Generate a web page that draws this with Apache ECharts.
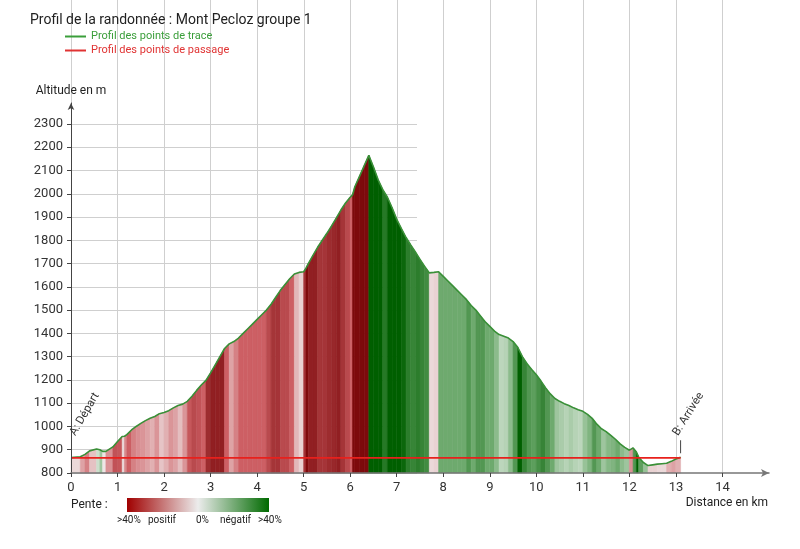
<!DOCTYPE html>
<html><head><meta charset="utf-8">
<script src="https://cdn.jsdelivr.net/npm/echarts@6/dist/echarts.min.js"></script>
<style>html,body{margin:0;padding:0;background:#fff}#c{width:800px;height:549px}</style>
</head><body><div id="c"></div>
<script>
// Profile of the track (distance in km, altitude in m)
const traceKm = [0,0.2,0.3,0.4,0.55,0.62,0.68,0.75,0.9,1.0,1.1,1.15,1.2,1.3,1.4,1.5,1.6,1.7,1.8,1.9,2.0,2.1,2.2,2.3,2.4,2.5,2.6,2.7,2.8,2.9,3.0,3.1,3.2,3.3,3.4,3.5,3.6,3.7,3.8,3.9,4.0,4.1,4.2,4.3,4.4,4.5,4.6,4.7,4.8,4.9,5.0,5.05,5.1,5.2,5.3,5.4,5.5,5.6,5.7,5.8,5.9,6.0,6.05,6.1,6.2,6.3,6.4,6.5,6.6,6.7,6.8,6.9,7.0,7.1,7.2,7.3,7.4,7.5,7.6,7.7,7.8,7.9,8.0,8.1,8.2,8.3,8.4,8.5,8.6,8.7,8.8,8.9,9.0,9.1,9.2,9.3,9.4,9.5,9.6,9.7,9.8,9.9,10.0,10.1,10.2,10.3,10.4,10.5,10.6,10.7,10.8,10.9,11.0,11.1,11.2,11.3,11.4,11.5,11.6,11.7,11.8,11.9,12.0,12.08,12.15,12.2,12.3,12.4,12.5,12.6,12.7,12.8,12.9,13.0,13.1];
const traceAlt = [866,870,880,895,903,900,893,893,912,935,957,958,965,985,1000,1013,1025,1035,1043,1055,1060,1068,1080,1090,1096,1108,1130,1155,1178,1198,1230,1265,1300,1335,1355,1365,1380,1400,1420,1440,1460,1480,1500,1525,1555,1585,1610,1635,1655,1662,1665,1680,1700,1735,1770,1800,1830,1862,1895,1930,1960,1985,1995,2030,2075,2120,2165,2115,2060,2018,1985,1940,1890,1850,1812,1780,1750,1718,1688,1660,1662,1665,1645,1625,1605,1585,1565,1545,1520,1500,1475,1450,1430,1410,1395,1388,1380,1365,1340,1300,1270,1245,1222,1195,1165,1140,1120,1108,1098,1090,1080,1072,1065,1052,1035,1010,990,978,962,945,925,910,898,908,890,868,845,832,835,838,840,842,850,860,868];
// Waypoints (points de passage)
const passageKm = [0, 13.1];
const passageAlt = [865, 865];
const passageNames = ['A: Départ', 'B: Arrivée'];
// Axis ticks
const yTickMin = 800, yTickMax = 2300, yStep = 100;
const xTickMin = 0, xTickMax = 14, xStep = 1;
const legendLabels = ['>40%', 'positif', '0%', 'négatif', '>40%'];

const FONT = 'Roboto';
function mix(a, b, t) { return a.map((v, i) => Math.round(v + (b[i] - v) * t)); }
function slopeColor(p) {
  const t = Math.min(Math.abs(p) / 40, 1);
  let c;
  if (p >= 0) {
    c = t < 0.5 ? mix([238,230,230],[205,95,100],t/0.5) : mix([205,95,100],[125,10,12],(t-0.5)/0.5);
  } else {
    c = t < 0.5 ? mix([230,238,230],[110,170,110],t/0.5) : mix([110,170,110],[0,95,0],(t-0.5)/0.5);
  }
  return 'rgb(' + c.join(',') + ')';
}
const segs = [];
for (let i = 0; i < traceKm.length - 1; i++) {
  const p = (traceAlt[i+1] - traceAlt[i]) / (traceKm[i+1] - traceKm[i]) / 10;
  segs.push([traceKm[i], traceAlt[i], traceKm[i+1], traceAlt[i+1], p]);
}

const chart = echarts.init(document.getElementById('c'));
const axisLbl = { fontFamily: FONT, fontSize: 13, color: '#333', formatter: v => String(v) };
const option = {
  animation: false,
  title: { text: 'Profil de la randonnée : Mont Pecloz groupe 1', left: 30, top: 13, padding: 0,
    textStyle: { fontFamily: FONT, fontSize: 14, fontWeight: 'normal', color: '#222' } },
  legend: { left: 65, top: 31, padding: 0, orient: 'vertical', icon: 'rect', itemWidth: 21, itemHeight: 2, itemGap: 3,
    textStyle: { fontFamily: FONT, fontSize: 11 },
    data: [ { name: 'Profil des points de trace', textStyle: { color: '#3a9e3a' } },
            { name: 'Profil des points de passage', textStyle: { color: '#e03333' } } ] },
  grid: [
    { left: 71, top: 103, width: 698, height: 370 },
    { left: 71, top: 0, width: 651.7, height: 473 },
    { left: 71, top: 124, width: 346, height: 349 }
  ],
  xAxis: [
    { gridIndex: 0, type: 'value', min: 0, max: 15, interval: xStep, z: 5,
      axisLine: { lineStyle: { color: '#777', width: 1.5 }, symbol: ['none', 'arrow'], symbolSize: [6, 8] },
      axisTick: { show: true, length: 4, lineStyle: { color: '#444' } },
      axisLabel: Object.assign({ margin: 8, showMaxLabel: false }, axisLbl),
      splitLine: { show: false } },
    { gridIndex: 1, type: 'value', min: xTickMin, max: xTickMax, interval: xStep,
      axisLine: { show: false }, axisTick: { show: false }, axisLabel: { show: false },
      splitLine: { show: true, lineStyle: { color: '#cfcfcf', width: 1 } } },
    { gridIndex: 2, type: 'value', min: 0, max: 7.43, show: false }
  ],
  yAxis: [
    { gridIndex: 0, type: 'value', min: yTickMin, max: 2390, interval: yStep, z: 5,
      name: 'Altitude en m', nameLocation: 'end', nameGap: 6,
      nameTextStyle: { fontFamily: FONT, fontSize: 12, color: '#222' },
      axisLine: { show: true, lineStyle: { color: '#444', width: 1 }, symbol: ['none', 'arrow'], symbolSize: [5, 7] },
      axisTick: { show: true, length: 4, lineStyle: { color: '#444' } },
      axisLabel: Object.assign({ margin: 8, showMaxLabel: false }, axisLbl),
      splitLine: { show: false } },
    { gridIndex: 1, type: 'value', min: 0, max: 1, show: false },
    { gridIndex: 2, type: 'value', min: yTickMin, max: yTickMax, interval: yStep,
      axisLine: { show: false }, axisTick: { show: false }, axisLabel: { show: false },
      splitLine: { show: true, lineStyle: { color: '#cfcfcf', width: 1 } } }
  ],
  series: [
    { type: 'custom', xAxisIndex: 0, yAxisIndex: 0, z: 2, silent: true,
      encode: { x: [0, 2], y: [1, 3] },
      data: segs,
      renderItem: function (params, api) {
        const x0 = api.value(0), a0 = api.value(1), x1 = api.value(2), a1 = api.value(3);
        const p0 = api.coord([x0, yTickMin]), p1 = api.coord([x0, a0]);
        const p2 = api.coord([x1, a1]), p3 = api.coord([x1, yTickMin]);
        const col = slopeColor(api.value(4));
        return { type: 'polygon', shape: { points: [p0, p1, p2, p3] },
          style: { fill: col, stroke: col, lineWidth: 0.6 } };
      } },
    { name: 'Profil des points de trace', type: 'line', xAxisIndex: 0, yAxisIndex: 0, z: 4,
      showSymbol: false, symbol: 'none', color: '#3a9e3a',
      lineStyle: { color: '#3a9038', width: 1.6 },
      data: traceKm.map((k, i) => [k, traceAlt[i]]) },
    { name: 'Profil des points de passage', type: 'line', xAxisIndex: 0, yAxisIndex: 0, z: 4,
      showSymbol: false, symbol: 'none', color: '#e03333',
      lineStyle: { color: '#e8201c', width: 1.6 },
      data: passageKm.map((k, i) => [k, passageAlt[i]]),
      markPoint: {
        symbol: 'circle', symbolSize: 0, silent: true,
        data: [
          { coord: [passageKm[0], passageAlt[0]], value: passageNames[0],
            label: { show: true, formatter: passageNames[0], position: [7, -20], align: 'left', verticalAlign: 'bottom',
              rotate: 60, fontFamily: FONT, fontSize: 11.5, color: '#333' } },
          { coord: [passageKm[1], passageAlt[1]], value: passageNames[1],
            label: { show: true, formatter: passageNames[1], position: [0, -20], align: 'left', verticalAlign: 'bottom',
              rotate: 58, fontFamily: FONT, fontSize: 11.5, color: '#333' } },
          { coord: [passageKm[1], passageAlt[1]], symbol: 'rect', symbolSize: [1, 13], symbolOffset: [0, -11],
            itemStyle: { color: '#444' }, label: { show: false } }
        ]
      } }
  ],
  graphic: [
    { type: 'text', left: 'auto', right: 32, top: 497,
      style: { text: 'Distance en km', fontFamily: FONT, fontSize: 12, fill: '#222' } },
    { type: 'text', left: 71, top: 499,
      style: { text: 'Pente :', fontFamily: FONT, fontSize: 12, fill: '#222' } },
    { type: 'rect', shape: { x: 127, y: 498, width: 142, height: 14 },
      style: { fill: new echarts.graphic.LinearGradient(0, 0, 1, 0, [
        { offset: 0, color: '#a00000' }, { offset: 0.5, color: '#ececec' }, { offset: 1, color: '#006a00' } ]) } },
    { type: 'text', x: 117, y: 515, style: { text: legendLabels[0], fontFamily: FONT, fontSize: 10, fill: '#222' } },
    { type: 'text', x: 148, y: 515, style: { text: legendLabels[1], fontFamily: FONT, fontSize: 10, fill: '#222' } },
    { type: 'text', x: 196, y: 515, style: { text: legendLabels[2], fontFamily: FONT, fontSize: 10, fill: '#222' } },
    { type: 'text', x: 220, y: 515, style: { text: legendLabels[3], fontFamily: FONT, fontSize: 10, fill: '#222' } },
    { type: 'text', x: 258, y: 515, style: { text: legendLabels[4], fontFamily: FONT, fontSize: 10, fill: '#222' } }
  ]
};
chart.setOption(option);
</script></body></html>
